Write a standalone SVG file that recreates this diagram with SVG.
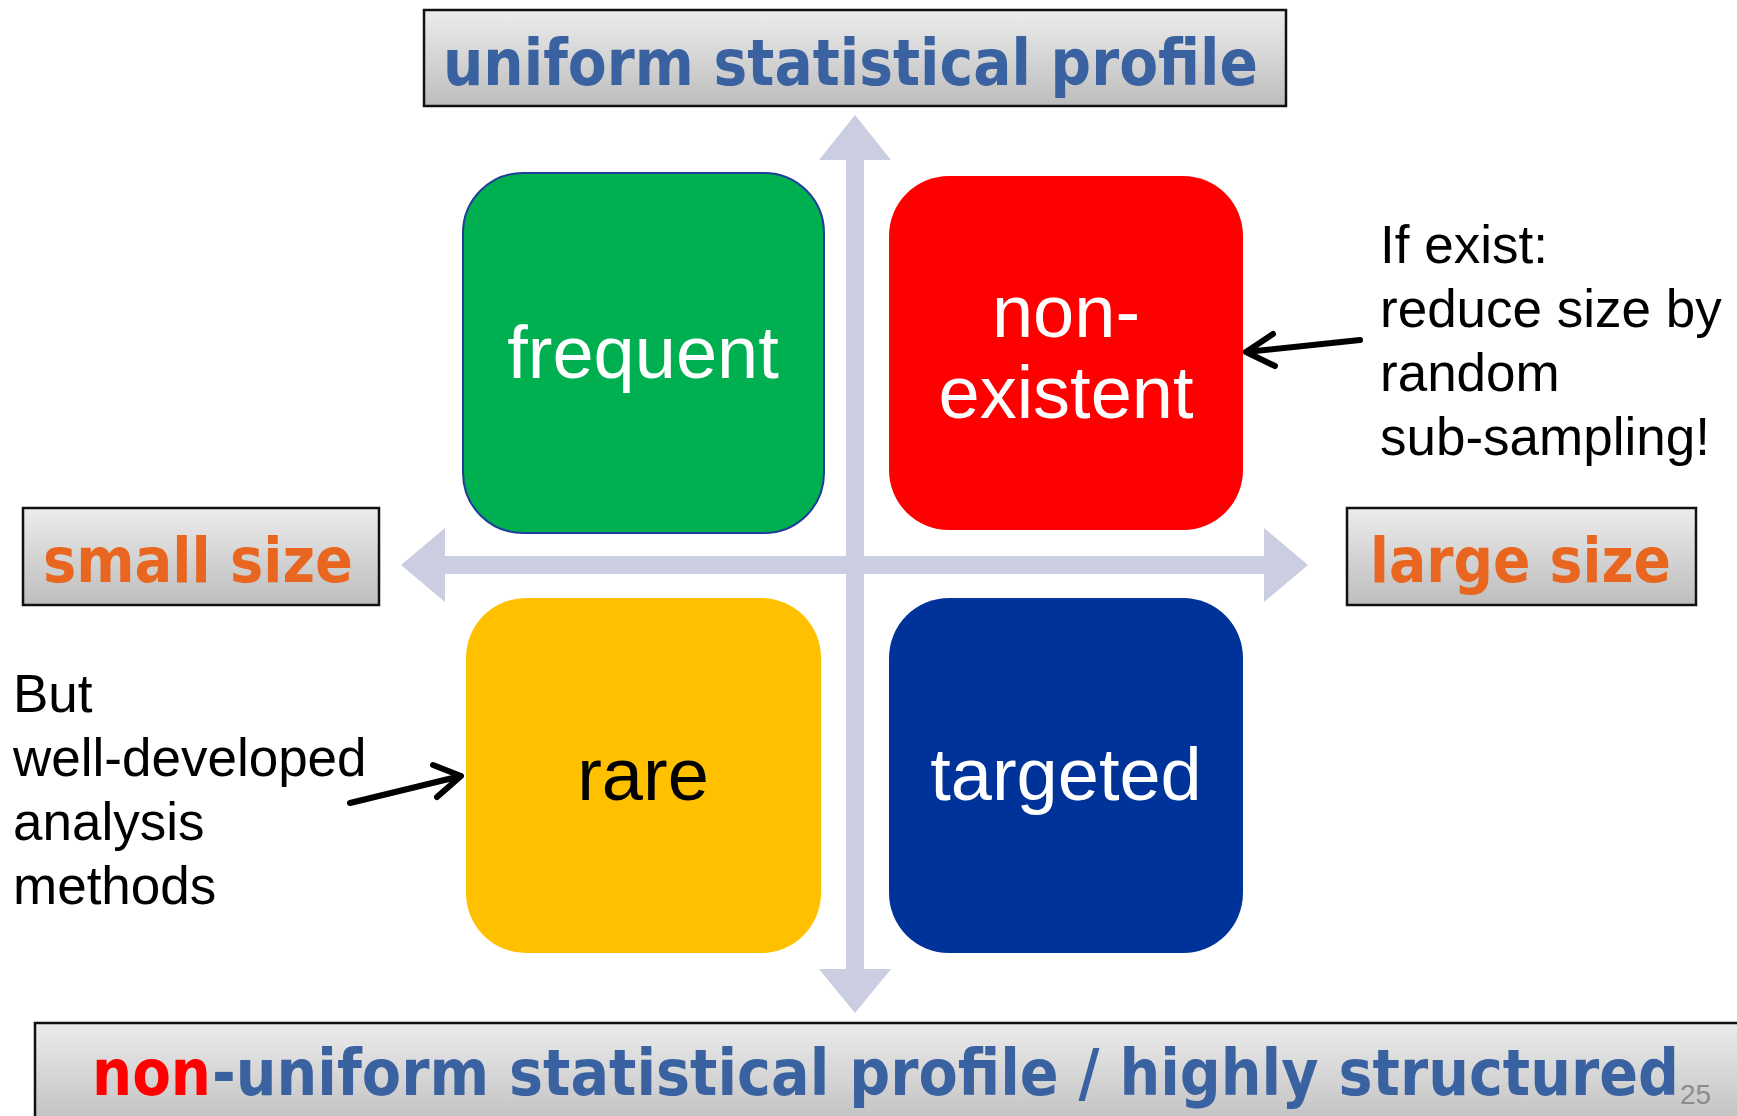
<svg xmlns="http://www.w3.org/2000/svg" width="1737" height="1116" viewBox="0 0 1737 1116">
  <defs>
    <linearGradient id="labelFill" x1="0" y1="0" x2="0" y2="1">
      <stop offset="0" stop-color="#ececec"/>
      <stop offset="1" stop-color="#bdbdbd"/>
    </linearGradient>
    <style>
      .label { fill: url(#labelFill); stroke: #111; stroke-width: 2.5; }
      .axisTitle { font-family: "DejaVu Sans", Verdana, sans-serif; font-weight: bold; font-size: 64px; fill: #3a62a0; }
      .sizeTitle { font-family: "DejaVu Sans", Verdana, sans-serif; font-weight: bold; font-size: 62px; fill: #e8661f; }
      .boxText { font-family: "Liberation Sans", Arial, sans-serif; font-size: 74px; text-anchor: middle; }
      .note { font-family: "Liberation Sans", Arial, sans-serif; font-size: 53px; fill: #000; }
      .axis { fill: #cbcde0; }
      .pointer { fill: none; stroke: #000; stroke-width: 6; stroke-linecap: round; stroke-linejoin: round; }
    </style>
  </defs>
  <rect width="1737" height="1116" fill="#fff"/>

  <!-- axes and pointer arrows -->
  <g id="connectors">
    <polygon class="axis" points="846,160 819,160 855,115 891,160 864,160 864,969 891,969 855,1013 819,969 846,969"/>
    <polygon class="axis" points="445,556 445,528 401,565 445,602 445,574 1264,574 1264,602 1308,565 1264,528 1264,556"/>
    <path class="pointer" d="M1360,340 L1246,352 M1273,334 L1246,352 L1275,366"/>
    <path class="pointer" d="M350,803 L461,776 M433,765 L461,776 L437,797"/>
  </g>

  <g id="top-label">
    <rect class="label" x="424" y="10" width="862" height="96"/>
    <text class="axisTitle" x="443" y="85" textLength="815" lengthAdjust="spacingAndGlyphs">uniform statistical profile</text>
  </g>

  <g id="left-label">
    <rect class="label" x="23" y="508" width="356" height="97"/>
    <text class="sizeTitle" x="43" y="582" textLength="310" lengthAdjust="spacingAndGlyphs">small size</text>
  </g>

  <g id="right-label">
    <rect class="label" x="1347" y="508" width="349" height="97"/>
    <text class="sizeTitle" x="1370" y="582" textLength="301" lengthAdjust="spacingAndGlyphs">large size</text>
  </g>

  <g id="bottom-label">
    <rect class="label" x="35" y="1023" width="1710" height="110"/>
    <text class="axisTitle" x="92" y="1095" textLength="119" lengthAdjust="spacingAndGlyphs" fill="#ff0000" style="fill:#ff0000">non</text>
    <text class="axisTitle" x="212" y="1095" textLength="1467" lengthAdjust="spacingAndGlyphs">-uniform statistical profile / highly structured</text>
    <text x="1680" y="1104" font-family="Liberation Sans, Arial, sans-serif" font-size="28" fill="#8c8c8c" textLength="31" lengthAdjust="spacingAndGlyphs">25</text>
  </g>

  <g id="frequent">
    <rect x="463" y="173" width="361" height="360" rx="60" ry="60" fill="#00af50" stroke="#1f3d99" stroke-width="2"/>
    <text class="boxText" x="643" y="378" fill="#fff">frequent</text>
  </g>

  <g id="non-existent">
    <rect x="889" y="176" width="354" height="354" rx="60" ry="60" fill="#ff0000"/>
    <text class="boxText" x="1066" y="337" fill="#fff">non-</text>
    <text class="boxText" x="1066" y="418" fill="#fff">existent</text>
  </g>

  <g id="rare">
    <rect x="466" y="598" width="355" height="355" rx="60" ry="60" fill="#ffc000"/>
    <text class="boxText" x="643" y="800" fill="#000">rare</text>
  </g>

  <g id="targeted">
    <rect x="889" y="598" width="354" height="355" rx="60" ry="60" fill="#003399"/>
    <text class="boxText" x="1066" y="800" fill="#fff">targeted</text>
  </g>

  <g id="note-right">
    <text class="note" x="1380" y="263">If exist:</text>
    <text class="note" x="1380" y="327">reduce size by</text>
    <text class="note" x="1380" y="391">random</text>
    <text class="note" x="1380" y="455">sub-sampling!</text>
  </g>

  <g id="note-left">
    <text class="note" x="13" y="712">But</text>
    <text class="note" x="13" y="776">well-developed</text>
    <text class="note" x="13" y="840">analysis</text>
    <text class="note" x="13" y="904">methods</text>
  </g>
</svg>
